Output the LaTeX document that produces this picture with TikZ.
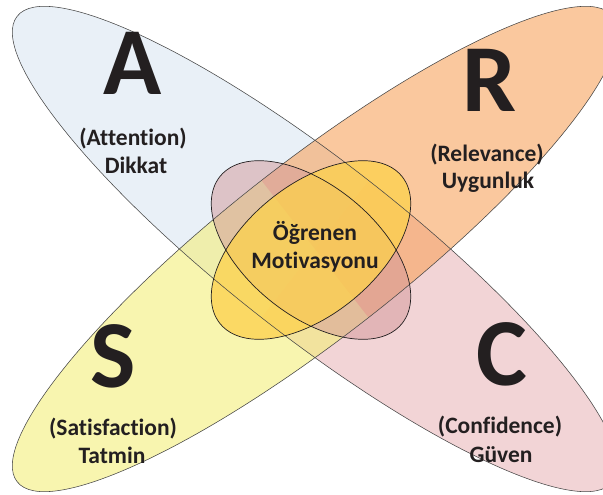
\documentclass[tikz,border=0pt]{standalone}
\usepackage{fontspec}
\setmainfont{Carlito}[Ligatures={NoCommon}]
\usepackage{tikz}
\definecolor{attblue}{RGB}{233,240,247}
\definecolor{confpink}{RGB}{242,212,214}
\definecolor{relorange}{RGB}{247,163,93}
\definecolor{satyellow}{RGB}{243,238,122}
\definecolor{coremauve}{RGB}{211,152,153}
\definecolor{coreyellow}{RGB}{253,209,75}
\definecolor{rimgray}{RGB}{70,70,70}
\definecolor{ink}{RGB}{35,31,32}
\tikzstyle{rim} = [draw=rimgray, line width=.55pt]
\tikzstyle{corerim} = [draw=ink, line width=.7pt]
\tikzstyle{bigletter} = [text=ink, font=\bfseries\fontsize{96}{96}\selectfont, anchor=base, inner sep=0pt]
\tikzstyle{lbltext} = [text=ink, font=\bfseries\fontsize{23.5}{28}\selectfont, anchor=base, inner sep=0pt]
\newcommand{\petal}[3]{%
	\begin{scope}[shift={(315,249)}, rotate=#1]
		\begin{scope} \clip (-400,-120) rectangle (0,120); \fill[#2] (0,0) ellipse [x radius=378pt, y radius=87pt]; \end{scope}
		\begin{scope} \clip (0,-120) rectangle (400,120); \fill[#3] (0,0) ellipse [x radius=378pt, y radius=87pt]; \end{scope}
	\end{scope}}

\begin{document}
\begin{tikzpicture}[x=1pt, y=-1pt]%
			\useasboundingbox (0,0) rectangle (603,495);
			\petal{-38}{attblue}{confpink}
			\petal{38}{satyellow, fill opacity=.6}{relorange, fill opacity=.6}
			\fill[coremauve, fill opacity=.5, rotate around={-39:(311,250)}] (311,250) ellipse [x radius=117pt, y radius=65pt];
			\fill[coreyellow, fill opacity=.75, rotate around={39:(311,250)}] (311,250) ellipse [x radius=117pt, y radius=65pt];
			\draw[rim, rotate around={-38:(315,249)}] (315,249) ellipse [x radius=378pt, y radius=87pt];
			\draw[rim, rotate around={38:(315,249)}] (315,249) ellipse [x radius=378pt, y radius=87pt];
			\draw[corerim, rotate around={-39:(311,250)}] (311,250) ellipse [x radius=117pt, y radius=65pt];
			\draw[corerim, rotate around={39:(311,250)}] (311,250) ellipse [x radius=117pt, y radius=65pt];
			\node[bigletter] (att) at (133,95) {A};
			\node[lbltext] (attEn) at (133,145) {(Attention)};
			\node[lbltext] (attTr) at (136,173) {Dikkat};
			\node[bigletter] (rel) at (490,112) {R};
			\node[lbltext] (relEn) at (487,161) {(Relevance)};
			\node[lbltext] (relTr) at (488,188) {Uygunluk};
			\node[bigletter] (sat) at (113,387) {S};
			\node[lbltext] (satEn) at (113,435) {(Satisfaction)};
			\node[lbltext] (satTr) at (112,463) {Tatmin};
			\node[bigletter] (con) at (502,385) {C};
			\node[lbltext] (conEn) at (500,433) {(Confidence)};
			\node[lbltext] (conTr) at (501,462) {Güven};
			\node[lbltext] (coreA) at (315,240) {Öğrenen};
			\node[lbltext] (coreB) at (315,268) {Motivasyonu};
		\end{tikzpicture}
\end{document}
